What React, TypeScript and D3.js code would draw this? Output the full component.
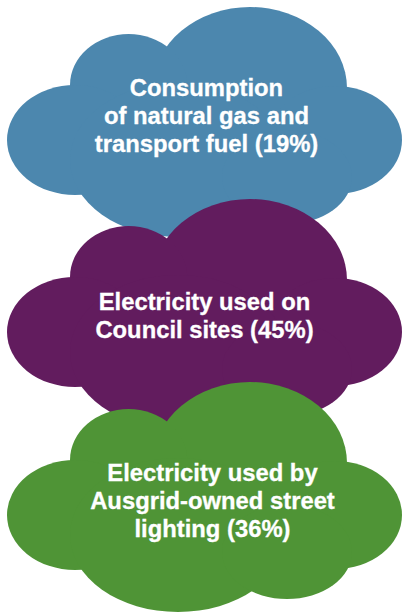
import React, { useEffect, useRef } from "react";
import * as d3 from "d3";

// ---- data ----
const categories = [
  "Consumption of natural gas and transport fuel",
  "Electricity used on Council sites",
  "Electricity used by Ausgrid-owned street lighting",
];
const shares = [19, 45, 36];
const labelLines = [
  ["Consumption", "of natural gas and", "transport fuel"],
  ["Electricity used on", "Council sites"],
  ["Electricity used by", "Ausgrid-owned street", "lighting"],
];
const colors = ["#4c87ae", "#621c5e", "#4f9436"];

// ---- layout ----
const W = 403;
const H = 612;
const cloudOffsetY = [0, 192, 375];
const textCenterX = [206.5, 204.5, 212.5];
const firstBaseline = [96, 310, 480.5];
const lineGap = 28.2;
const fontSize = 23.8;

// cloud lobes in cloud-local coordinates
const lobes = [
  { cx: 250, cy: 88, rx: 97, ry: 81 },
  { cx: 128.6, cy: 85, rx: 58.6, ry: 51 },
  { cx: 75, cy: 140, rx: 68, ry: 55 },
  { cx: 335, cy: 140, rx: 67, ry: 54 },
  { cx: 178, cy: 160, rx: 108, ry: 77 },
  { cx: 287, cy: 177, rx: 65, ry: 47 },
];

export default function App() {
  const ref = useRef<SVGSVGElement | null>(null);

  useEffect(() => {
    const svg = d3.select(ref.current);
    svg.selectAll("*").remove();

    const data = categories.map((c, i) => ({
      name: c,
      share: shares[i],
      color: colors[i],
      lines: labelLines[i].map((l, j, arr) =>
        j === arr.length - 1 ? `${l} (${shares[i]}%)` : l
      ),
      dy: cloudOffsetY[i],
      tx: textCenterX[i],
      ty: firstBaseline[i],
    }));

    const g = svg
      .selectAll("g.cloud")
      .data(data)
      .join("g")
      .attr("class", "cloud");

    g.append("g")
      .attr("transform", (d) => `translate(0,${d.dy})`)
      .attr("fill", (d) => d.color)
      .selectAll("ellipse")
      .data(lobes)
      .join("ellipse")
      .attr("cx", (l) => l.cx)
      .attr("cy", (l) => l.cy)
      .attr("rx", (l) => l.rx)
      .attr("ry", (l) => l.ry);

    g.append("text")
      .attr("fill", "#ffffff")
      .attr("stroke", "#ffffff")
      .attr("stroke-width", 0.3)
      .attr("font-family", "'Liberation Sans', Arial, Helvetica, sans-serif")
      .attr("font-weight", "bold")
      .attr("font-size", fontSize)
      .attr("text-anchor", "middle")
      .each(function (d) {
        d3.select(this)
          .selectAll("tspan")
          .data(d.lines)
          .join("tspan")
          .attr("x", d.tx)
          .attr("y", (_, j) => d.ty + j * lineGap)
          .text((t) => t);
      });
  }, []);

  return (
    <svg
      ref={ref}
      width={W}
      height={H}
      viewBox={`0 0 ${W} ${H}`}
      style={{ position: "absolute", left: 0, top: 0, background: "#ffffff" }}
    />
  );
}
